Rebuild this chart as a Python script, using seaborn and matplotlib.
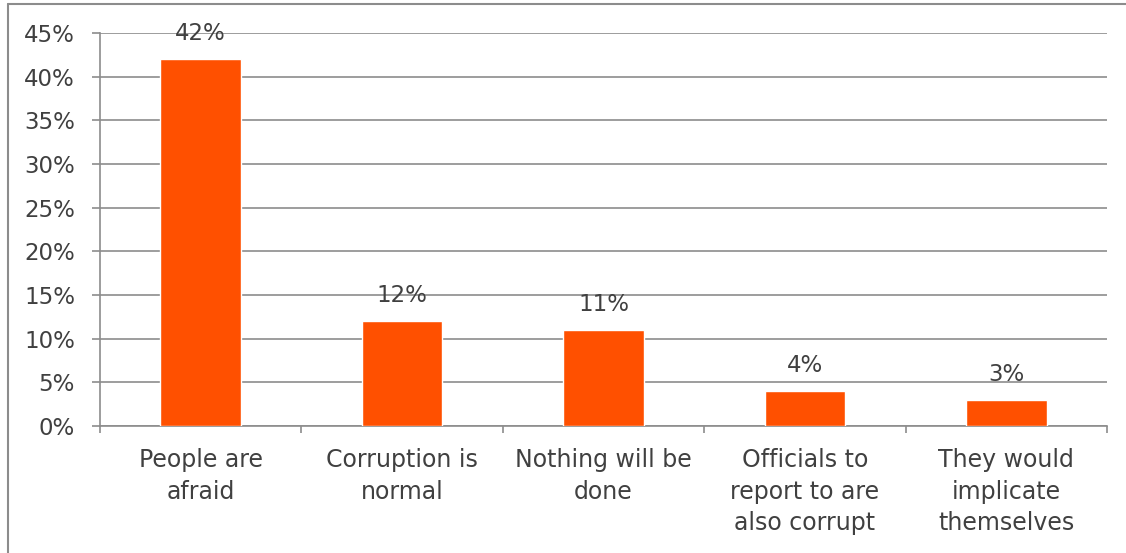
import pandas as pd
import seaborn as sns
import matplotlib.pyplot as plt
from matplotlib.ticker import PercentFormatter, FixedLocator
from matplotlib.lines import Line2D

# donnees
reasons = ["People are\nafraid", "Corruption is\nnormal", "Nothing will be\ndone",
           "Officials to\nreport to are\nalso corrupt", "They would\nimplicate\nthemselves"]
shares = [42, 12, 11, 4, 3]

df = pd.DataFrame({"reason": reasons, "share": shares})

sns.set_theme(style="white")
plt.rcParams['font.family'] = ['DejaVu Sans']
txt = "#404040"
grid = "#8c8c8c"

fig = plt.figure(figsize=(11.26, 5.53), dpi=100)
ax = fig.add_axes([100/1126, 1-426/553, 1007/1126, 393/553])

sns.barplot(x="reason", y="share", data=df, color="#FF5000", width=0.4,
            saturation=1, ax=ax, zorder=3)

ax.set_xlim(-0.5, 4.5)
ax.set_ylim(0, 45)
ax.set_yticks(range(0, 50, 5))
ax.yaxis.set_major_formatter(PercentFormatter(decimals=0))
ax.yaxis.grid(True, color=grid, linewidth=1.2, zorder=0)
ax.set_axisbelow(True)

for s in ["top", "right"]:
    ax.spines[s].set_visible(False)
for s in ["left", "bottom"]:
    ax.spines[s].set_color(grid)
    ax.spines[s].set_linewidth(1.2)

ax.tick_params(axis="y", length=6, width=1.2, color=grid, labelsize=16.5,
               labelcolor=txt, pad=12, left=True)
ax.tick_params(axis="x", which="major", length=0, labelsize=17,
               labelcolor=txt, pad=16)
ax.xaxis.set_minor_locator(FixedLocator([i - 0.5 for i in range(6)]))
ax.tick_params(axis="x", which="minor", length=5, width=1.2, color=grid, bottom=True)
for lab in ax.get_xticklabels():
    lab.set_linespacing(1.4)
ax.set_xlabel("")
ax.set_ylabel("")

# etiquettes de valeur
for i, v in enumerate(shares):
    ax.text(i, v + 1.6, f"{v}%", ha="center", va="bottom", fontsize=16.5, color=txt)

# cadre du graphique
fig.add_artist(Line2D([8/1126, 1], [1-4/553, 1-4/553], color=grid, linewidth=1.5))
fig.add_artist(Line2D([8/1126, 8/1126], [0, 1-4/553], color=grid, linewidth=1.5))

fig.savefig("out.png", dpi=100)
